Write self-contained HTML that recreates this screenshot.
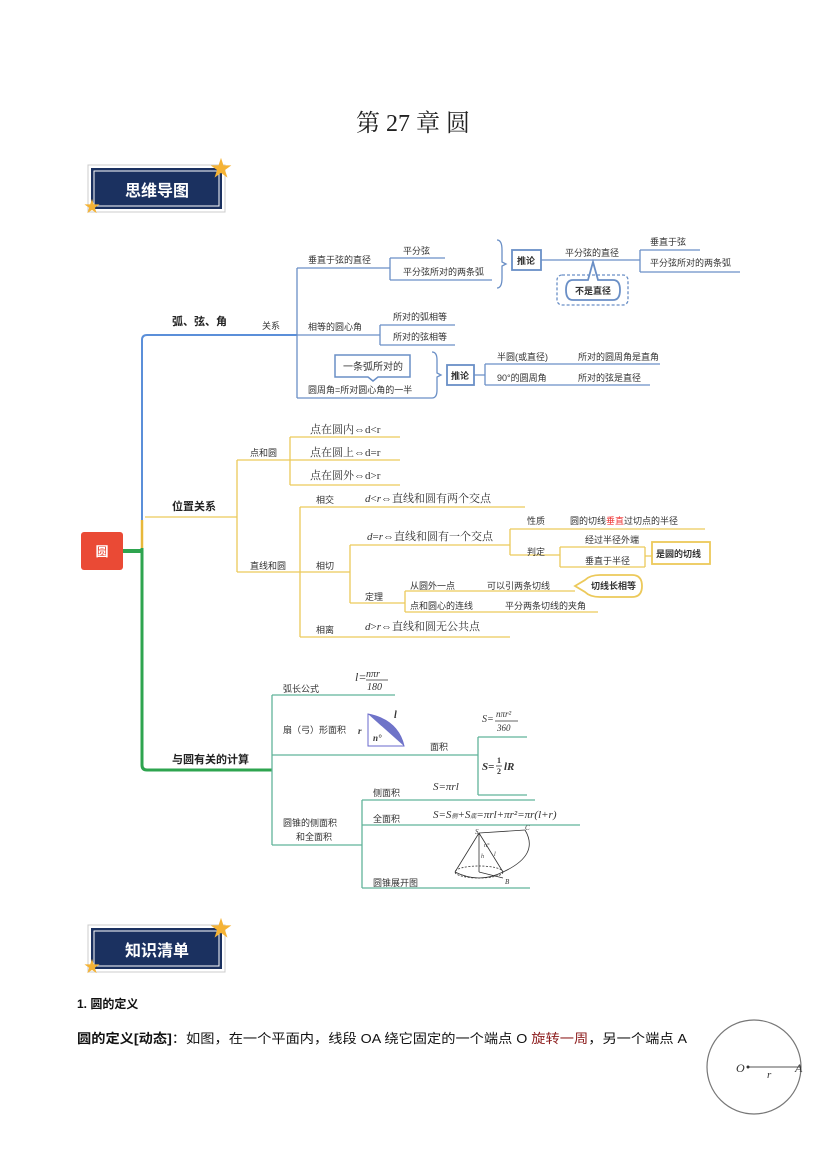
<!DOCTYPE html>
<html><head><meta charset="utf-8"><style>
html,body{margin:0;padding:0;background:#fff}
svg{display:block}
text{font-family:"Liberation Sans","Noto Sans CJK SC",sans-serif;fill:#333}
.s{font-size:9px}
.m{font-size:11px;font-family:"Liberation Serif","Noto Serif CJK SC",serif}
.b{font-weight:bold;font-size:11px;fill:#222}
.it{font-family:"Liberation Serif",serif;font-style:italic}
</style></head><body>
<svg width="827" height="1169" viewBox="0 0 827 1169" xmlns="http://www.w3.org/2000/svg">
<text x="413" y="131" text-anchor="middle" style="font-family:'Liberation Serif','Noto Serif CJK SC',serif;font-size:24px;fill:#222">第 27 章  圆</text>

<!-- banner 1 -->
<rect x="88" y="165" width="137" height="47" fill="#fff" stroke="#ccc"/>
<rect x="91" y="168" width="131" height="41" fill="#1b3160"/>
<rect x="94" y="171" width="125" height="35" fill="none" stroke="#fff" stroke-width="1"/>
<text x="157" y="196" text-anchor="middle" style="font-size:16px;font-weight:bold;fill:#fff">思维导图</text>
<text x="221" y="176" text-anchor="middle" style="font-size:22px;fill:#f5b335">★</text>
<text x="92" y="212" text-anchor="middle" style="font-size:16px;fill:#f5b335">★</text>

<!-- banner 2 -->
<rect x="88" y="925" width="137" height="47" fill="#fff" stroke="#ccc"/>
<rect x="91" y="928" width="131" height="41" fill="#1b3160"/>
<rect x="94" y="931" width="125" height="35" fill="none" stroke="#fff" stroke-width="1"/>
<text x="157" y="956" text-anchor="middle" style="font-size:16px;font-weight:bold;fill:#fff">知识清单</text>
<text x="221" y="936" text-anchor="middle" style="font-size:22px;fill:#f5b335">★</text>
<text x="92" y="972" text-anchor="middle" style="font-size:16px;fill:#f5b335">★</text>

<!-- root -->
<rect x="81" y="532" width="42" height="38" rx="3" fill="#ea4a35"/>
<text x="102" y="556" text-anchor="middle" style="font-size:13px;font-weight:bold;fill:#fff">圆</text>
<line x1="123" y1="551" x2="142" y2="551" stroke="#2ea44f" stroke-width="4"/>

<!-- BLUE -->
<g stroke="#5b8fd9" stroke-width="2" fill="none">
<path d="M142 520 V340 Q142 335 147 335 H297"/>
</g>
<g stroke="#6a8fc6" stroke-width="1.3" fill="none">
<path d="M297 268 V398"/>
<path d="M297 268 H390 M390 258 V280 M390 258 H445 M390 280 H492"/>
<path d="M497 240 Q502 240 502 250 V262 L506 264 L502 266 V278 Q502 288 497 288"/>
<rect x="512" y="250" width="29" height="20" stroke-width="1.8"/>
<path d="M541 260 H640 M640 250 V272 M640 250 H700 M640 272 H740"/>
<rect x="557" y="275" width="71" height="30" rx="5" stroke-dasharray="3,2"/>
<path d="M573 280 H588 L593 262 L598 280 H613 Q620 280 620 290 Q620 300 613 300 H573 Q566 300 566 290 Q566 280 573 280 Z" stroke-width="1.8"/>
<path d="M297 335 H380 M380 325 V345 M380 325 H455 M380 345 H455"/>
<path d="M297 398 H432"/>
<path d="M335 355 H410 V377 H378 L373 381 L368 377 H335 Z" stroke-width="1.5"/>
<path d="M432 352 Q437 352 437 360 V373 L441 375 L437 377 V390 Q437 398 432 398"/>
<rect x="447" y="365" width="27" height="20" stroke-width="1.8"/>
<path d="M474 375 H485 M485 364 V385 M485 364 H660 M485 385 H650"/>
</g>
<text x="172" y="325" class="b">弧、弦、角</text>
<text x="262" y="329" class="s">关系</text>
<text x="308" y="263" class="s">垂直于弦的直径</text>
<text x="403" y="254" class="s">平分弦</text>
<text x="403" y="275" class="s">平分弦所对的两条弧</text>
<text x="517" y="264" class="s" style="font-weight:bold">推论</text>
<text x="565" y="256" class="s">平分弦的直径</text>
<text x="650" y="245" class="s">垂直于弦</text>
<text x="650" y="266" class="s">平分弦所对的两条弧</text>
<text x="575" y="294" class="s" style="font-weight:bold">不是直径</text>
<text x="308" y="330" class="s">相等的圆心角</text>
<text x="393" y="320" class="s">所对的弧相等</text>
<text x="393" y="340" class="s">所对的弦相等</text>
<text x="343" y="370" class="s" style="font-size:10px">一条弧所对的</text>
<text x="308" y="393" class="s">圆周角=所对圆心角的一半</text>
<text x="451" y="379" class="s" style="font-weight:bold">推论</text>
<text x="497" y="360" class="s">半圆(或直径)</text>
<text x="578" y="360" class="s">所对的圆周角是直角</text>
<text x="497" y="381" class="s">90°的圆周角</text>
<text x="578" y="381" class="s">所对的弦是直径</text>

<!-- YELLOW -->
<path d="M142 520 V548" stroke="#e8b83a" stroke-width="2.5" fill="none"/>
<g stroke="#ecc95a" stroke-width="1.3" fill="none">
<path d="M145 517 H237 M237 460 V572 M237 460 H290 M290 437 V485 M290 437 H400 M290 460 H400 M290 485 H400"/>
<path d="M237 572 H300 M300 507 V637 M300 507 H525 M300 572 H350 M350 545 V603 M350 545 H510"/>
<path d="M510 529 V555 M510 529 H705 M510 555 H560 M560 547 V567 M560 547 H645 M560 567 H645 M645 547 V567 M645 556 H652"/>
<rect x="652" y="542" width="58" height="22" stroke-width="1.8"/>
<path d="M350 603 H405 M405 591 V612 M405 591 H575 M405 612 H598 M300 637 H510"/>
<path d="M575 586 L585 580 Q590 575 600 575 H632 Q642 575 642 586 Q642 597 632 597 H600 Q590 597 585 592 Z" stroke-width="1.8"/>
</g>
<text x="172" y="510" class="b">位置关系</text>
<text x="250" y="456" class="s">点和圆</text>
<text x="310" y="433" class="m">点在圆内⇔d&lt;r</text>
<text x="310" y="456" class="m">点在圆上⇔d=r</text>
<text x="310" y="479" class="m">点在圆外⇔d&gt;r</text>
<text x="250" y="569" class="s">直线和圆</text>
<text x="316" y="503" class="s">相交</text>
<text x="365" y="502" class="m"><tspan class="it">d</tspan>&lt;<tspan class="it">r</tspan>⇔直线和圆有两个交点</text>
<text x="316" y="569" class="s">相切</text>
<text x="367" y="540" class="m"><tspan class="it">d</tspan>=<tspan class="it">r</tspan>⇔直线和圆有一个交点</text>
<text x="527" y="524" class="s">性质</text>
<text x="570" y="524" class="s">圆的切线<tspan style="fill:#e33">垂直</tspan>过切点的半径</text>
<text x="527" y="555" class="s">判定</text>
<text x="585" y="543" class="s">经过半径外端</text>
<text x="585" y="564" class="s">垂直于半径</text>
<text x="656" y="557" class="s" style="font-weight:bold">是圆的切线</text>
<text x="365" y="600" class="s">定理</text>
<text x="410" y="589" class="s">从圆外一点</text>
<text x="487" y="589" class="s">可以引两条切线</text>
<text x="591" y="589" class="s" style="font-weight:bold">切线长相等</text>
<text x="410" y="609" class="s">点和圆心的连线</text>
<text x="505" y="609" class="s">平分两条切线的夹角</text>
<text x="316" y="633" class="s">相离</text>
<text x="365" y="630" class="m"><tspan class="it">d</tspan>&gt;<tspan class="it">r</tspan>⇔直线和圆无公共点</text>

<!-- GREEN -->
<path d="M142 548 V765 Q142 770 147 770 H272" stroke="#2ea44f" stroke-width="3" fill="none"/>
<g stroke="#62b39a" stroke-width="1.3" fill="none">
<path d="M272 695 V845 M272 695 H395 M272 755 H478 M478 737 V795 M478 737 H527 M478 795 H527"/>
<path d="M272 845 H362 M362 800 V888 M362 800 H535 M362 825 H580 M362 888 H530"/>
</g>
<text x="172" y="763" class="b">与圆有关的计算</text>
<text x="283" y="692" class="s">弧长公式</text>
<text x="355" y="681" class="m it" style="font-size:12px">l=</text>
<text x="366" y="677" class="m it" style="font-size:10px">nπr</text>
<line x1="366" y1="680" x2="388" y2="680" stroke="#333" stroke-width="0.8"/>
<text x="367" y="690" class="m it" style="font-size:10px">180</text>
<text x="283" y="733" class="s">扇（弓）形面积</text>
<path d="M368 714 Q398 720 404 746 L368 746 Z" fill="#fff" stroke="#6a6acc"/>
<path d="M368 714 Q398 720 404 746 Z" fill="#6f74c8"/>
<text x="358" y="734" class="m it" style="font-size:9px;font-weight:bold">r</text>
<text x="394" y="718" class="m it" style="font-size:10px;font-weight:bold">l</text>
<text x="373" y="741" class="m it" style="font-size:9px;font-weight:bold">n°</text>
<text x="430" y="750" class="s">面积</text>
<text x="482" y="722" class="m it" style="font-size:10px">S=</text>
<text x="496" y="717" class="m it" style="font-size:9px">nπr²</text>
<line x1="495" y1="721" x2="518" y2="721" stroke="#333" stroke-width="0.8"/>
<text x="497" y="731" class="m it" style="font-size:9px">360</text>
<text x="482" y="770" class="m" style="font-size:11px;font-weight:bold"><tspan class="it">S</tspan>=</text>
<text x="497" y="763" class="m" style="font-size:8px;font-weight:bold">1</text>
<line x1="496" y1="766" x2="502" y2="766" stroke="#333" stroke-width="0.8"/>
<text x="497" y="774" class="m" style="font-size:8px;font-weight:bold">2</text>
<text x="504" y="770" class="m it" style="font-size:11px;font-weight:bold">lR</text>
<text x="373" y="796" class="s">侧面积</text>
<text x="433" y="790" class="m it" style="font-size:11px">S=πrl</text>
<text x="373" y="822" class="s">全面积</text>
<text x="433" y="818" class="m it" style="font-size:11px">S=S<tspan style="font-size:6px">侧</tspan>+S<tspan style="font-size:6px">底</tspan>=πrl+πr²=πr(l+r)</text>
<text x="283" y="826" class="s">圆锥的侧面积</text>
<text x="296" y="840" class="s">和全面积</text>
<text x="373" y="886" class="s">圆锥展开图</text>
<g stroke="#333" stroke-width="0.8" fill="none">
<path d="M479 833 L455 872 M479 833 L503 872 M479 833 L525 830 M479 833 V872"/>
<ellipse cx="479" cy="872" rx="24" ry="6" stroke-dasharray="2,1.5"/>
<path d="M455 872 Q479 884 503 872 M525 830 Q540 855 503 872 M479 872 L503 878"/>
</g>
<text x="475" y="834" class="m it" style="font-size:7px">S</text>
<text x="525" y="830" class="m it" style="font-size:7px">C</text>
<text x="484" y="847" class="m it" style="font-size:6px">n°</text>
<text x="481" y="858" class="m it" style="font-size:6px">h</text>
<text x="494" y="856" class="m it" style="font-size:6px">l</text>
<text x="505" y="884" class="m it" style="font-size:7px">B</text>

<!-- text section -->
<text x="77" y="1008" style="font-family:'Liberation Sans','Noto Sans CJK SC',sans-serif;font-size:12px;font-weight:bold;fill:#111">1.  圆的定义</text>
<text x="77" y="1043" textLength="610" lengthAdjust="spacingAndGlyphs" style="font-family:'Liberation Sans','Noto Sans CJK SC',sans-serif;font-size:13px;fill:#111"><tspan font-weight="bold">圆的定义[动态]</tspan>：如图，在一个平面内，线段 OA 绕它固定的一个端点 O <tspan style="fill:#8b1a1a">旋转一周</tspan>，另一个端点 A</text>
<circle cx="754" cy="1067" r="47" fill="none" stroke="#777" stroke-width="1.2"/>
<line x1="748" y1="1067" x2="801" y2="1067" stroke="#555" stroke-width="1"/>
<circle cx="748" cy="1067" r="1.5" fill="#333"/>
<text x="736" y="1072" class="m it" style="font-size:12px">O</text>
<text x="795" y="1072" class="m it" style="font-size:12px">A</text>
<text x="767" y="1078" class="m it" style="font-size:11px">r</text>
</svg>
</body></html>
